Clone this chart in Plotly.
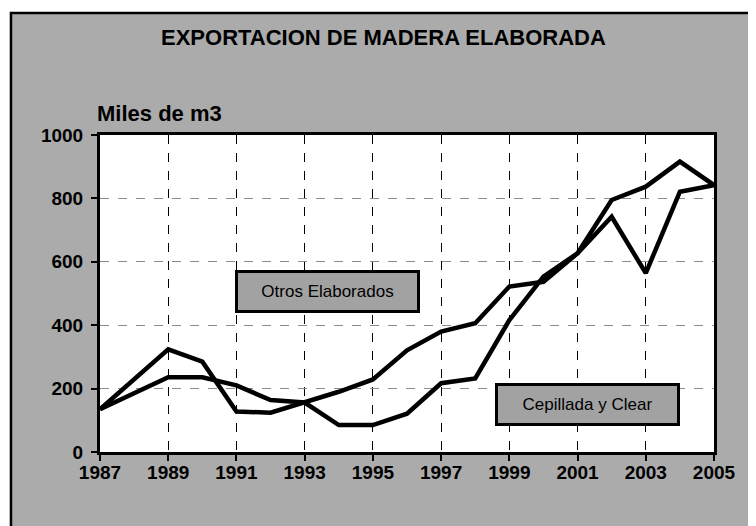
"""Exportacion de madera elaborada, 1987-2005 (miles de m3)."""

import plotly.graph_objects as go

YEARS = list(range(1987, 2006))
# two export series
SERIES_A = [135, 230, 324, 285, 128, 124, 156, 190, 229, 321,
            380, 406, 522, 537, 627, 795, 837, 916, 842]
SERIES_B = [135, 185, 236, 236, 210, 164, 156, 85, 85, 121,
            217, 232, 416, 553, 627, 742, 564, 821, 842]
X_TICKS = list(range(1987, 2006, 2))
Y_TICKS = [0, 200, 400, 600, 800, 1000]

TITLE = "EXPORTACION DE MADERA ELABORADA"
UNIT = "Miles de m3"
LABEL_A = "Otros Elaborados"
LABEL_B = "Cepillada y Clear"

GRAY = "#ababab"
BOX_GRAY = "#a2a2a2"
FONT = "Liberation Sans, Arial, sans-serif"

fig = go.Figure()
for ys in (SERIES_A, SERIES_B):
    fig.add_trace(go.Scatter(
        x=YEARS, y=ys, mode="lines",
        line=dict(color="black", width=4.5),
        showlegend=False, hoverinfo="skip",
    ))

# gray card with black frame, white plotting area on top of it
fig.add_shape(type="rect", xref="paper", yref="paper",
              x0=-0.145, x1=1.0586, y0=-0.30, y1=1.385,
              fillcolor=GRAY, line=dict(color="black", width=2.5),
              layer="below")
fig.add_shape(type="rect", xref="paper", yref="paper",
              x0=0, x1=1, y0=0, y1=1,
              fillcolor="white", line=dict(width=0), layer="below")

fig.add_annotation(text=f"<b>{TITLE}</b>", xref="paper", yref="paper",
                   x=0.4625, y=1.3076, xanchor="center", yanchor="middle",
                   showarrow=False, font=dict(family=FONT, size=22, color="black"))
fig.add_annotation(text=f"<b>{UNIT}</b>", xref="paper", yref="paper",
                   x=0.0977, y=1.069, xanchor="center", yanchor="middle",
                   showarrow=False, font=dict(family=FONT, size=22, color="black"))

for text, xv, yv in ((LABEL_A, 1993.68, 506), (LABEL_B, 2001.3, 150)):
    fig.add_annotation(text=text, x=xv, y=yv, xanchor="center", yanchor="middle",
                       showarrow=False, width=175, height=33,
                       bgcolor=BOX_GRAY, bordercolor="black", borderwidth=3,
                       borderpad=2,
                       font=dict(family=FONT, size=17, color="black"))

# page body has an 8px margin, so the figure is 8px smaller than the window
fig.update_layout(
    width=748, height=518,
    margin=dict(l=92, r=42, t=127, b=74),
    paper_bgcolor="white",
    plot_bgcolor="rgba(0,0,0,0)",
    font=dict(family=FONT, color="black"),
)
fig.update_xaxes(
    range=[1987, 2005], tickvals=X_TICKS, ticks="outside", ticklen=6,
    tickwidth=2, tickcolor="black",
    showline=True, linecolor="black", linewidth=3, mirror=True,
    showgrid=True, gridcolor="black", gridwidth=1.3, griddash="dash",
    zeroline=False, ticklabelstandoff=-5,
    tickfont=dict(family=FONT, size=19, color="black", weight="bold"),
)
fig.update_yaxes(
    range=[0, 1000], tickvals=Y_TICKS, ticks="outside", ticklen=6,
    tickwidth=2, tickcolor="black",
    showline=True, linecolor="black", linewidth=3, mirror=True,
    showgrid=True, gridcolor="#8c8c8c", gridwidth=1.3, griddash="dash",
    zeroline=False, ticklabelstandoff=4,
    tickfont=dict(family=FONT, size=19, color="black", weight="bold"),
)

fig.write_html("out.html")
